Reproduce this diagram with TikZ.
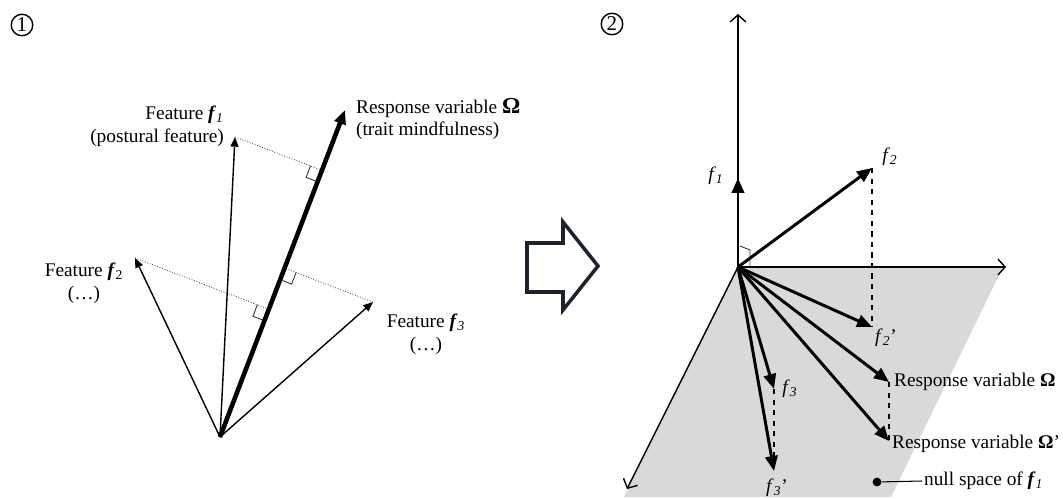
\documentclass[tikz,border=0pt]{standalone}
\usepackage{fontspec}
\setmainfont{Liberation Serif}
\usetikzlibrary{positioning,arrows.meta,calc}
\usepackage{xcolor}
\definecolor{planegray}{RGB}{217,217,217}
\definecolor{arrownavy}{RGB}{28,33,48}

\begin{document}
\begin{tikzpicture}[
        x=0.02cm, y=-0.02cm,
        every node/.style={font=\fontsize{11}{13}\selectfont},
        lbl/.style={inner sep=1pt},
        num/.style={draw, circle, inner sep=0pt, minimum size=0.43cm, line width=0.8pt, font=\fontsize{12}{12}\selectfont},
        vec/.style={-{Triangle[length=5.5pt,width=4.5pt]}, line width=0.8pt},
        bigvec/.style={-{Triangle[length=8pt,width=6.5pt]}, line width=2.6pt},
        thickvec/.style={-{Triangle[length=8.5pt,width=7pt]}, line width=1.7pt},
        axis/.style={-{Straight Barb[length=4pt,width=9pt]}, line width=0.8pt},
        proj/.style={densely dotted, line width=0.5pt, black!70},
        drop/.style={dashed, line width=0.8pt},
        rangle/.style={line width=0.5pt, black!80}
    ]
        \useasboundingbox (0,0) rectangle (1063,498);

        % Panel numbers
        \node[num] (n1) at (22,25) {1};
        \node[num] (n2) at (612,24) {2};

        % Panel 1: features and response
        \coordinate (o1) at (220,437);
        \coordinate (t1) at (235,137);
        \coordinate (t2) at (135,258);
        \coordinate (t3) at (373,302);
        \coordinate (om) at (345,110);

        % Projections onto the response
        \foreach \i in {1,2,3} {
            \coordinate (p\i) at ($(o1)!(t\i)!(om)$);
            \coordinate (a\i) at ($(p\i)!7pt!(t\i)$);
            \coordinate (b\i) at ($(p\i)!7pt!(o1)$);
            \draw[proj] (t\i) -- (p\i);
            \draw[rangle] (a\i) -- ($(a\i)+(b\i)-(p\i)$) -- (b\i);
        }

        \draw[vec] (o1) -- (t1);
        \draw[vec] (o1) -- (t2);
        \draw[vec] (o1) -- (t3);
        \draw[bigvec] (o1) -- (om);

        \node[lbl, align=right, anchor=east] (f1lbl) at (226,126) {Feature \textbf{\textit{f}}\textsubscript{\textit{1}}\\(postural feature)};
        \node[lbl, align=left, anchor=west] (omlbl) at (354,119) {Response variable {\fontsize{13}{13}\selectfont\textbf{Ω}}\\(trait mindfulness)};
        \node[lbl, align=center] (f2lbl) at (84,283) {Feature \textbf{\textit{f}}\textsubscript{2}\\(…)};
        \node[lbl, align=center] (f3lbl) at (426,334) {Feature \textbf{\textit{f}}\textsubscript{\textit{3}}\\(…)};

        % Block arrow between panels
        \draw[arrownavy, line width=2pt, line join=miter] (527,243) -- (563,243) -- (563,222) -- (598,266)
            -- (563,310) -- (563,292) -- (527,292) -- cycle;

        % Panel 2: null space of f1
        \coordinate (o2) at (738,267);
        \fill[planegray] (o2) -- (1003,267) -- (891,497) -- (624,497) -- cycle;

        \coordinate (ay) at (738,14);
        \coordinate (ax) at (1006,267);
        \coordinate (az) at (627,489);
        \draw[axis] (o2) -- (ay);
        \draw[axis] (o2) -- (ax);
        \draw[axis] (o2) -- (az);

        \coordinate (g1) at (738,178);
        \coordinate (g2) at (872,168);
        \coordinate (g2p) at (872,327);
        \coordinate (g3) at (774,389);
        \coordinate (g3p) at (774,471);
        \coordinate (gom) at (889,382);
        \coordinate (gomp) at (889,441);

        % Drops into the null space
        \draw[drop] (g2) -- (g2p);
        \draw[drop] (g3) -- (g3p);
        \draw[drop] (gom) -- (gomp);

        \draw[rangle] ($(o2)+(2,-21)$) -- ($(o2)+(12,-17)$) -- ($(o2)+(12,0)$);

        \draw[thickvec] (o2) -- (g1);
        \draw[thickvec] (o2) -- (g2);
        \draw[thickvec] (o2) -- (g2p);
        \draw[thickvec] (o2) -- (g3);
        \draw[thickvec] (o2) -- (g3p);
        \draw[thickvec] (o2) -- (gom);
        \draw[thickvec] (o2) -- (gomp);

        \node[lbl] (g1lbl) at (716,176) {\textit{f}\textsubscript{\textit{1}}};
        \node[lbl] (g2lbl) at (890,157) {\textit{f}\textsubscript{\textit{2}}};
        \node[lbl] (g2plbl) at (886,338) {\textit{f}\textsubscript{\textit{2}}’};
        \node[lbl] (g3lbl) at (790,389) {\textit{f}\textsubscript{\textit{3}}};
        \node[lbl] (g3plbl) at (777,488) {\textit{f}\textsubscript{\textit{3}}’};
        \node[lbl, anchor=west] (gomlbl) at (892,382) {Response variable \textbf{Ω}};
        \node[lbl, anchor=west] (gomplbl) at (890,444) {Response variable \textbf{Ω}’};

        \node[circle, fill, inner sep=0pt, minimum size=5pt] (dot) at (877,482) {};
        \node[lbl, anchor=west] (nulllbl) at (922,481) {null space of \textbf{\textit{f}}\textsubscript{\textit{1}}};
        \draw[line width=0.6pt] (dot) -- (nulllbl.west);

    \end{tikzpicture}
\end{document}
